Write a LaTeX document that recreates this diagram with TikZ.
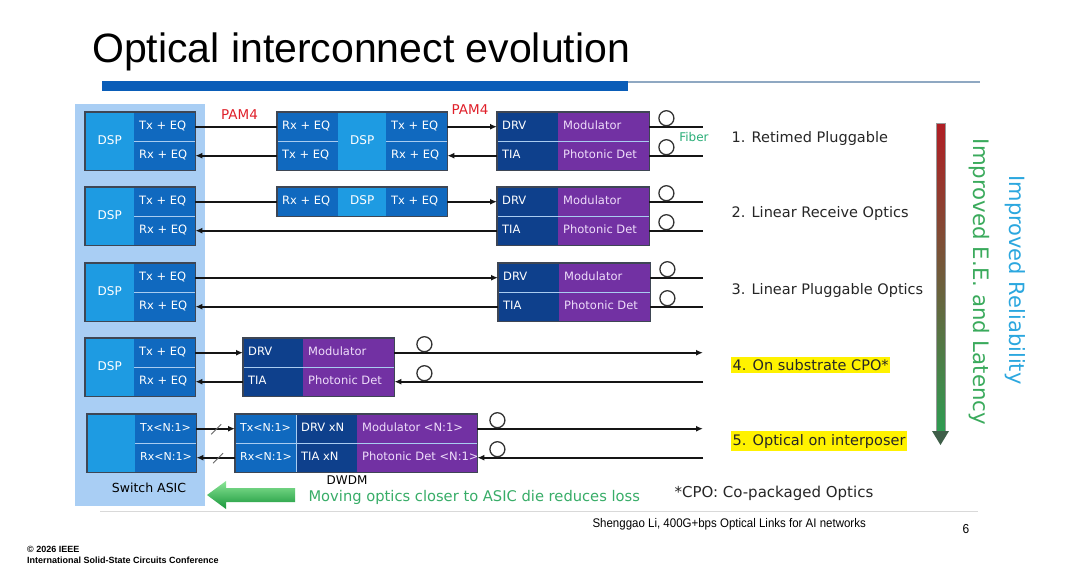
\documentclass[tikz,border=0pt]{standalone}
\usepackage{fontspec}
\setmainfont{DejaVu Sans}
\newfontfamily\titlefont{Liberation Sans}
\newfontfamily\footfont[FakeStretch=0.92]{Liberation Sans}
\usetikzlibrary{arrows.meta,calc}
\definecolor{asicbg}{HTML}{A9CEF4}
\definecolor{dspblue}{HTML}{1E9BE2}
\definecolor{txblue}{HTML}{1069BF}
\definecolor{navy}{HTML}{0E408C}
\definecolor{purp}{HTML}{7231A3}
\definecolor{purptext}{HTML}{EEDDFA}
\definecolor{framec}{HTML}{3E4654}
\definecolor{divc}{HTML}{A9CCF0}
\definecolor{wirec}{HTML}{151515}
\definecolor{loopcol}{HTML}{333333}
\definecolor{pamred}{HTML}{E0202A}
\definecolor{fibgreen}{HTML}{2AAE78}
\definecolor{movegreen}{HTML}{38AD68}
\definecolor{eegreen}{HTML}{3AAA5C}
\definecolor{relblue}{HTML}{2BA7DF}
\definecolor{barblue}{HTML}{0A5DB8}
\definecolor{thinbar}{HTML}{8FA8C2}
\definecolor{arrred}{HTML}{B01E24}
\definecolor{arrolive}{HTML}{8C6A30}
\definecolor{arrgreen}{HTML}{2E9C52}
\definecolor{arrhead}{HTML}{3E5E48}
\definecolor{bigg1}{HTML}{8BE596}
\definecolor{bigg2}{HTML}{27C04A}
\definecolor{bigg3}{HTML}{17963A}
\tikzset{
  x=1pt, y=-1pt,
  box/.style={anchor=north west, inner xsep=5pt, inner ysep=0pt, text=white,
    font=\fontsize{11.5}{13}\selectfont, text height=8.5pt, text depth=2.5pt},
  lc/.style={box, minimum height=29pt,
    execute at begin node={\hbox to #1\bgroup}, execute at end node={\hss\egroup}},
  dspc/.style={box, fill=dspblue, inner xsep=0pt, font=\fontsize{12}{14}\selectfont},
  txc/.style={lc=#1, fill=txblue},
  nvc/.style={lc=#1, fill=navy},
  puc/.style={lc=#1, fill=purp, text=purptext},
  wire/.style={line width=1.8pt, draw=wirec},
  arr/.style={wire, -{Latex[length=7pt,width=6pt]}},
  divl/.style={draw=divc, line width=1pt},
  boxframe/.style={draw=framec, line width=1.2pt},
  loopc/.style={circle, draw=loopcol, line width=1.3pt, minimum size=15pt, inner sep=0pt},
  lbl/.style={anchor=west, font=\fontsize{14.5}{17}\selectfont, text=black!85, inner xsep=1.5pt, inner ysep=2.5pt},
  pam/.style={text=pamred, font=\fontsize{13.5}{15}\selectfont},
  slashc/.style={draw=black!60, line width=0.9pt},
}
\begin{document}
\begin{tikzpicture}
\useasboundingbox (0,0) rectangle (1080,568);
\fill[white] (0,0) rectangle (1080,568);
% title and rules
\node[anchor=west, inner sep=0pt, font=\titlefont\fontsize{41}{45}\selectfont] (title) at (92,52) {Optical interconnect evolution};
\fill[barblue] (102,81) rectangle (628,91);
\draw[thinbar, line width=1.2pt] (628,82) -- (980,82);
\draw[black!15, line width=1pt] (100,511) -- (978,511);
% ASIC panel
\fill[asicbg] (75,104) rectangle (205,506);
\coordinate (fend) at (703,0);

% ---------- Row 1 ----------
\node[dspc, minimum width=49pt, minimum height=58pt] (a1dsp) at (85,112) {DSP};
\node[txc=51pt] (a1tx) at (134,112) {Tx + EQ};
\node[txc=51pt] (a1rx) at (134,141) {Rx + EQ};
\draw[divl] (a1tx.south west) -- (a1tx.south east);
\draw[boxframe] (a1dsp.north west) rectangle (a1rx.south east);

\node[txc=51pt] (m1a) at (277,112) {Rx + EQ};
\node[txc=51pt] (m1b) at (277,141) {Tx + EQ};
\node[dspc, minimum width=48pt, minimum height=58pt] (m1dsp) at (338,112) {DSP};
\node[txc=51pt] (m1c) at (386,112) {Tx + EQ};
\node[txc=51pt] (m1d) at (386,141) {Rx + EQ};
\draw[divl] (m1a.south west) -- (m1a.south east);
\draw[divl] (m1c.south west) -- (m1c.south east);
\draw[boxframe] (m1a.north west) rectangle (m1d.south east);

\node[nvc=51pt] (o1drv) at (497,112) {DRV};
\node[nvc=51pt] (o1tia) at (497,141) {TIA};
\node[puc=81pt] (o1mod) at (558,112) {Modulator};
\node[puc=81pt] (o1pd) at (558,141) {Photonic Det};
\draw[divl] (o1drv.south west) -- (o1mod.south east);
\draw[boxframe] (o1drv.north west) rectangle (o1pd.south east);

\draw[wire] (a1tx.east) -- (m1a.west);
\draw[arr] (m1b.west) -- (a1rx.east);
\draw[arr] (m1c.east) -- (o1drv.west);
\draw[arr] (o1tia.west) -- (m1d.east);
\draw[wire] (o1mod.east) -- (o1mod.east -| fend);
\draw[wire] (o1pd.east) -- (o1pd.east -| fend);
\node[loopc] (l1t) at ($(o1mod.east)+(17,-8.5)$) {};
\node[loopc] (l1r) at ($(o1pd.east)+(17,-8.5)$) {};
\node[pam] (pam1) at (239.5,115) {PAM4};
\node[pam] (pam2) at (470,110) {PAM4};
\node[text=fibgreen, font=\fontsize{12}{14}\selectfont] (fib) at (694,137) {Fiber};
\node[lbl] (lab1) at (730,138) {1. Retimed Pluggable};

% ---------- Row 2 ----------
\node[dspc, minimum width=49pt, minimum height=58pt] (a2dsp) at (85,187) {DSP};
\node[txc=51pt] (a2tx) at (134,187) {Tx + EQ};
\node[txc=51pt] (a2rx) at (134,216) {Rx + EQ};
\draw[divl] (a2tx.south west) -- (a2tx.south east);
\draw[boxframe] (a2dsp.north west) rectangle (a2rx.south east);

\node[txc=51pt] (m2a) at (277,187) {Rx + EQ};
\node[dspc, minimum width=48pt, minimum height=29pt] (m2dsp) at (338,187) {DSP};
\node[txc=51pt] (m2c) at (386,187) {Tx + EQ};
\draw[boxframe] (m2a.north west) rectangle (m2c.south east);

\node[nvc=51pt] (o2drv) at (497,187) {DRV};
\node[nvc=51pt] (o2tia) at (497,216) {TIA};
\node[puc=81pt] (o2mod) at (558,187) {Modulator};
\node[puc=81pt] (o2pd) at (558,216) {Photonic Det};
\draw[divl] (o2drv.south west) -- (o2mod.south east);
\draw[boxframe] (o2drv.north west) rectangle (o2pd.south east);

\draw[wire] (a2tx.east) -- (m2a.west);
\draw[arr] (m2c.east) -- (o2drv.west);
\draw[arr] (o2tia.west) -- (a2rx.east);
\draw[wire] (o2mod.east) -- (o2mod.east -| fend);
\draw[wire] (o2pd.east) -- (o2pd.east -| fend);
\node[loopc] (l2t) at ($(o2mod.east)+(17,-8.5)$) {};
\node[loopc] (l2r) at ($(o2pd.east)+(17,-8.5)$) {};
\node[lbl] (lab2) at (730,213) {2. Linear Receive Optics};

% ---------- Row 3 ----------
\node[dspc, minimum width=49pt, minimum height=58pt] (a3dsp) at (85,263) {DSP};
\node[txc=51pt] (a3tx) at (134,263) {Tx + EQ};
\node[txc=51pt] (a3rx) at (134,292) {Rx + EQ};
\draw[divl] (a3tx.south west) -- (a3tx.south east);
\draw[boxframe] (a3dsp.north west) rectangle (a3rx.south east);

\node[nvc=51pt] (o3drv) at (498,263) {DRV};
\node[nvc=51pt] (o3tia) at (498,292) {TIA};
\node[puc=81pt] (o3mod) at (559,263) {Modulator};
\node[puc=81pt] (o3pd) at (559,292) {Photonic Det};
\draw[divl] (o3drv.south west) -- (o3mod.south east);
\draw[boxframe] (o3drv.north west) rectangle (o3pd.south east);

\draw[arr] (a3tx.east) -- (o3drv.west);
\draw[arr] (o3tia.west) -- (a3rx.east);
\draw[wire] (o3mod.east) -- (o3mod.east -| fend);
\draw[wire] (o3pd.east) -- (o3pd.east -| fend);
\node[loopc] (l3t) at ($(o3mod.east)+(17,-8.5)$) {};
\node[loopc] (l3r) at ($(o3pd.east)+(17,-8.5)$) {};
\node[lbl] (lab3) at (730,290) {3. Linear Pluggable Optics};

% ---------- Row 4 ----------
\node[dspc, minimum width=49pt, minimum height=58pt] (a4dsp) at (85,338) {DSP};
\node[txc=51pt] (a4tx) at (134,338) {Tx + EQ};
\node[txc=51pt] (a4rx) at (134,367) {Rx + EQ};
\draw[divl] (a4tx.south west) -- (a4tx.south east);
\draw[boxframe] (a4dsp.north west) rectangle (a4rx.south east);

\node[nvc=50pt] (o4drv) at (243,338) {DRV};
\node[nvc=50pt] (o4tia) at (243,367) {TIA};
\node[puc=81pt] (o4mod) at (303,338) {Modulator};
\node[puc=81pt] (o4pd) at (303,367) {Photonic Det};
\draw[divl] (o4drv.south west) -- (o4mod.south east);
\draw[boxframe] (o4drv.north west) rectangle (o4pd.south east);

\draw[arr] (a4tx.east) -- (o4drv.west);
\draw[arr] (o4tia.west) -- (a4rx.east);
\draw[arr] (o4mod.east) -- (o4mod.east -| fend);
\draw[arr] (o4pd.east -| fend) -- (o4pd.east);
\node[loopc] (l4t) at ($(o4mod.east)+(30,-8.5)$) {};
\node[loopc] (l4r) at ($(o4pd.east)+(30,-8.5)$) {};
\node[lbl, fill=yellow] (lab4) at (731,365) {4. On substrate CPO*};

% ---------- Row 5 ----------
\node[dspc, minimum width=48pt, minimum height=58pt] (a5dsp) at (87,414) {};
\node[txc=51pt, font=\fontsize{11}{13}\selectfont] (a5tx) at (135,414) {Tx<N:1>};
\node[txc=51pt, font=\fontsize{11}{13}\selectfont] (a5rx) at (135,443) {Rx<N:1>};
\draw[divl] (a5tx.south west) -- (a5tx.south east);
\draw[boxframe] (a5dsp.north west) rectangle (a5rx.south east);

\node[txc=51pt, font=\fontsize{11}{13}\selectfont] (c5tx) at (235,414) {Tx<N:1>};
\node[txc=51pt, font=\fontsize{11}{13}\selectfont] (c5rx) at (235,443) {Rx<N:1>};
\node[nvc=51pt] (o5drv) at (296,414) {DRV xN};
\node[nvc=51pt] (o5tia) at (296,443) {TIA xN};
\node[puc=110pt] (o5mod) at (357,414) {Modulator <N:1>};
\node[puc=110pt] (o5pd) at (357,443) {Photonic Det <N:1>};
\draw[divl] (c5tx.south west) -- (o5mod.south east);
\draw[divl] (o5drv.north west) -- (o5tia.south west);
\draw[boxframe] (c5tx.north west) rectangle (o5pd.south east);

\draw[arr] (a5tx.east) -- (c5tx.west);
\draw[arr] (c5rx.west) -- (a5rx.east);
\draw[slashc] ($(a5tx.east)!0.5!(c5tx.west)+(-4.5,5.5)$) -- ++(10,-10);
\draw[slashc] ($(a5rx.east)!0.55!(c5rx.west)+(-4.5,5.5)$) -- ++(10,-10);
\draw[arr] (o5mod.east) -- (o5mod.east -| fend);
\draw[arr] (o5pd.east -| fend) -- (o5pd.east);
\node[loopc] (l5t) at ($(o5mod.east)+(20,-8.5)$) {};
\node[loopc] (l5r) at ($(o5pd.east)+(20,-8.5)$) {};
\node[lbl, fill=yellow] (lab5) at (731,441) {5. Optical on interposer};

% ---------- bottom texts ----------
\node[font=\fontsize{12.5}{15}\selectfont] (sw) at (149,488) {Switch ASIC};
\node[font=\fontsize{12}{14}\selectfont] (dwdm) at (347,480) {DWDM};
\shade[top color=bigg1, middle color=bigg2, bottom color=bigg3]
  (207,495) -- (226,481) -- (226,488) -- (295,488) -- (295,502) -- (226,502) -- (226,509) -- cycle;
\node[anchor=west, text=movegreen, font=\fontsize{14.7}{17}\selectfont] (mv) at (305,497) {Moving optics closer to ASIC die reduces loss};
\node[anchor=west, font=\fontsize{15}{17}\selectfont, text=black!85] (cpo) at (671,493) {*CPO: Co-packaged Optics};

% ---------- gradient arrow & side texts ----------
\shade[top color=arrred, middle color=arrolive, bottom color=arrgreen, draw=black!40, line width=0.5pt] (936,123) rectangle (945,433);
\fill[arrhead] (932,431) -- (949,431) -- (940.5,445) -- cycle;
\node[rotate=-90, text=eegreen, font=\fontsize{21.3}{24}\selectfont] (ee) at (979,282) {Improved E.E. and Latency};
\node[rotate=-90, text=relblue, font=\fontsize{21}{24}\selectfont] (rel) at (1015,280) {Improved Reliability};

% ---------- footer ----------
\node[anchor=west, font=\footfont\fontsize{12.5}{14}\selectfont] (foot) at (589,524) {Shenggao Li, 400G+bps Optical Links for AI networks};
\node[font=\footfont\fontsize{13}{15}\selectfont] (pg) at (966,529) {6};
\node[anchor=west, align=left, inner sep=0pt, font=\titlefont\bfseries\fontsize{9}{11.5}\selectfont] (ieee) at (27,555) {© 2026 IEEE\\International Solid-State Circuits Conference};
\end{tikzpicture}
\end{document}
